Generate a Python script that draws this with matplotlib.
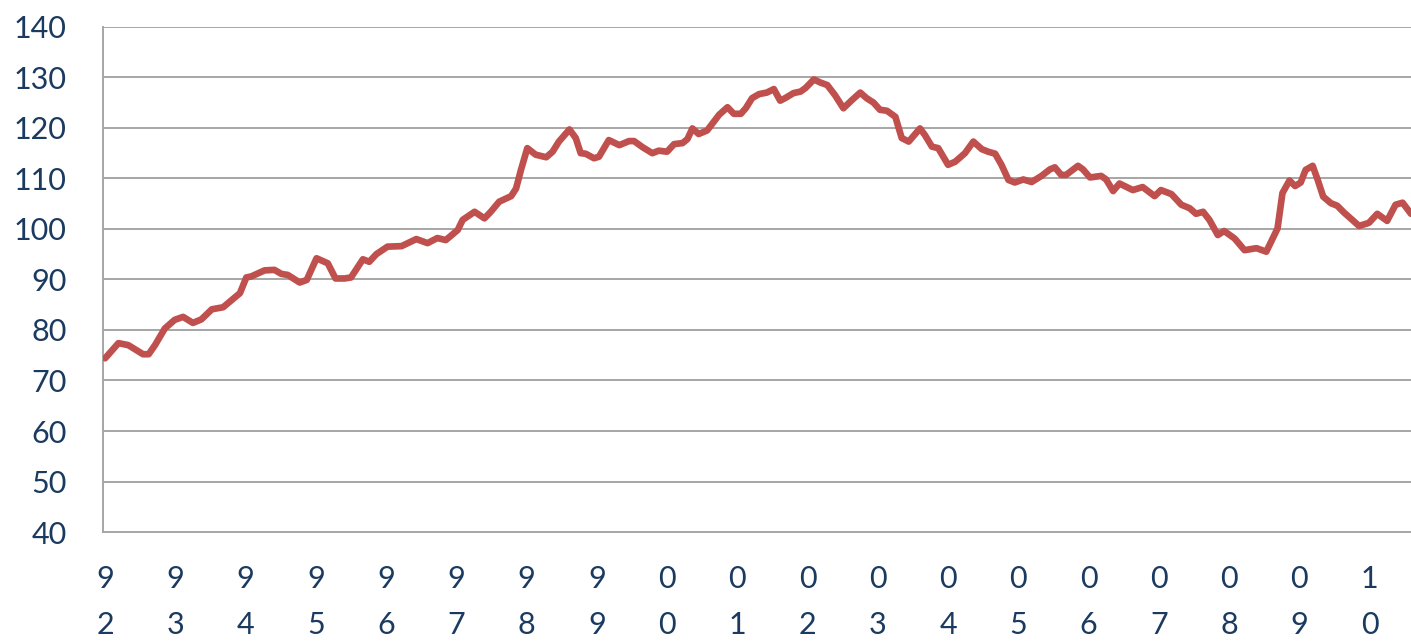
import matplotlib.pyplot as plt

# ----------------------------------------------------------------------------
# DATA
# ----------------------------------------------------------------------------

# time in years since Jan 1992
t = [0.00, 0.19, 0.33, 0.54, 0.62, 0.71, 0.85, 0.99, 1.11, 1.25, 1.37, 1.52,
     1.68, 1.92, 2.01, 2.08, 2.27, 2.41, 2.51, 2.60, 2.77, 2.87, 3.01, 3.17,
     3.28, 3.41, 3.50, 3.67, 3.76, 3.86, 4.02, 4.22, 4.43, 4.59, 4.73, 4.85,
     5.02, 5.09, 5.26, 5.40, 5.49, 5.61, 5.78, 5.85, 5.92, 6.01, 6.13, 6.28,
     6.37, 6.46, 6.61, 6.70, 6.77, 6.84, 6.96, 7.03, 7.17, 7.32, 7.46, 7.53,
     7.65, 7.79, 7.88, 8.00, 8.10, 8.22, 8.29, 8.36, 8.45, 8.57, 8.74, 8.86,
     8.95, 9.05, 9.12, 9.21, 9.31, 9.42, 9.52, 9.61, 9.68, 9.80, 9.90, 9.97,
     10.09, 10.18, 10.28, 10.39, 10.51, 10.63, 10.75, 10.84, 10.94, 11.03,
     11.13, 11.25, 11.34, 11.44, 11.60, 11.67, 11.77, 11.86, 12.00, 12.10,
     12.24, 12.36, 12.48, 12.57, 12.67, 12.76, 12.86, 12.95, 13.07, 13.19,
     13.33, 13.45, 13.52, 13.61, 13.68, 13.85, 13.92, 14.02, 14.18, 14.25,
     14.35, 14.44, 14.63, 14.77, 14.94, 15.03, 15.18, 15.32, 15.44, 15.53,
     15.63, 15.72, 15.84, 15.93, 16.08, 16.22, 16.39, 16.53, 16.69, 16.76,
     16.86, 16.94, 17.02, 17.09, 17.19, 17.26, 17.34, 17.45, 17.54, 17.64,
     17.73, 17.85, 17.99, 18.11, 18.25, 18.37, 18.47, 18.59]

index = [74.4, 77.4, 77.0, 75.2, 75.2, 77.0, 80.3, 82.0, 82.6, 81.4, 82.1, 84.1,
         84.5, 87.3, 90.4, 90.6, 91.8, 91.9, 91.1, 90.9, 89.4, 89.9, 94.2, 93.2,
         90.2, 90.2, 90.4, 94.0, 93.5, 95.0, 96.5, 96.6, 98.0, 97.2, 98.2, 97.8,
         99.8, 101.8, 103.4, 102.1, 103.4, 105.4, 106.5, 108.0, 111.7, 116.0,
         114.7, 114.2, 115.3, 117.3, 119.7, 118.0, 115.0, 114.9, 114.0, 114.3,
         117.6, 116.6, 117.4, 117.4, 116.2, 115.0, 115.5, 115.3, 116.8, 117.0,
         117.8, 119.9, 118.8, 119.5, 122.6, 124.1, 122.8, 122.8, 123.9, 125.9,
         126.7, 127.0, 127.7, 125.4, 125.9, 126.9, 127.2, 127.9, 129.6, 129.0,
         128.5, 126.5, 123.9, 125.5, 127.0, 125.9, 125.0, 123.6, 123.4, 122.2,
         118.0, 117.3, 119.9, 118.6, 116.3, 116.0, 112.7, 113.3, 115.0, 117.3,
         115.8, 115.3, 114.9, 112.7, 109.7, 109.2, 109.8, 109.3, 110.5, 111.8,
         112.2, 110.7, 110.7, 112.5, 111.8, 110.2, 110.5, 109.8, 107.5, 109.0,
         107.7, 108.3, 106.5, 107.7, 106.9, 104.8, 104.1, 103.0, 103.4, 101.8,
         98.8, 99.6, 98.1, 95.8, 96.2, 95.5, 100.1, 107.1, 109.6, 108.5, 109.2,
         111.7, 112.5, 109.8, 106.4, 105.1, 104.6, 103.2, 102.1, 100.6, 101.2,
         103.0, 101.6, 104.8, 105.2, 103.0]

year_labels = ['9\n2', '9\n3', '9\n4', '9\n5', '9\n6', '9\n7', '9\n8', '9\n9',
               '0\n0', '0\n1', '0\n2', '0\n3', '0\n4', '0\n5', '0\n6', '0\n7',
               '0\n8', '0\n9', '1\n0']
y_ticks = [40, 50, 60, 70, 80, 90, 100, 110, 120, 130, 140]

# ----------------------------------------------------------------------------
# PLOT
# ----------------------------------------------------------------------------

text_color = '#1B3A60'
grid_color = '#A6A6A6'

fig = plt.figure(figsize=(14.11, 6.41), dpi=100)
ax = fig.add_axes([0.073, 0.170, 0.927, 0.788])

ax.plot(t, index, color='#C0504D', linewidth=4.8, solid_joinstyle='round',
        solid_capstyle='round', zorder=3)

ax.set_ylim(40, 140)
ax.set_xlim(-0.03, 18.59)
ax.set_yticks(y_ticks)
ax.set_xticks(range(len(year_labels)))
ax.set_xticklabels(year_labels, linespacing=1.75)

for y in y_ticks[1:]:
    ax.axhline(y, color=grid_color, linewidth=1.4, zorder=1)

for side in ['top', 'right']:
    ax.spines[side].set_visible(False)
for side in ['left', 'bottom']:
    ax.spines[side].set_color(grid_color)
    ax.spines[side].set_linewidth(1.4)

ax.tick_params(axis='both', length=0, labelsize=22, labelcolor=text_color)
ax.tick_params(axis='y', pad=26)
ax.tick_params(axis='x', pad=24)
for lab in ax.get_xticklabels() + ax.get_yticklabels():
    lab.set_family('Lato')

fig.savefig('out.png', dpi=100)
